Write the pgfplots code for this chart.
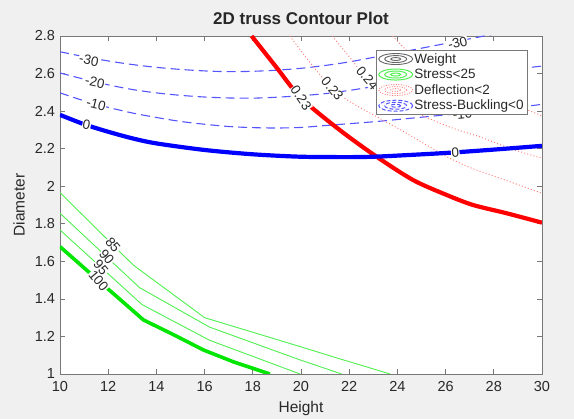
\documentclass[border=0pt]{standalone}
\usepackage{fontspec}
\setmainfont{Liberation Sans}
\usepackage{pgfplots}
\pgfplotsset{compat=1.18}
\definecolor{figbg}{RGB}{240,240,240}
\definecolor{axgray}{RGB}{120,120,120}
\definecolor{txt}{RGB}{40,40,40}
\definecolor{dashblue}{RGB}{85,85,255}
\definecolor{thinblue}{RGB}{0,0,255}
\definecolor{lgreen}{RGB}{80,240,80}
\definecolor{tgreen}{RGB}{0,230,0}
\definecolor{dotred}{RGB}{255,120,120}
\definecolor{tred}{RGB}{255,0,0}
\tikzset{
  clab/.style={font=\fontsize{13.5}{15}\selectfont, text=txt, fill=white, inner sep=0.5pt},
}
\begin{document}
\begin{tikzpicture}[x=1pt,y=1pt]
\fill[figbg] (-60,-45) rectangle (514,374);
\useasboundingbox (-60,-45) rectangle (514,374);
\begin{axis}[
  at={(0,0)}, anchor=south west,
  scale only axis, width=482pt, height=338pt,
  xmin=10, xmax=30, ymin=1, ymax=2.8,
  xtick={10,12,14,16,18,20,22,24,26,28,30},
  ytick={1,1.2,1.4,1.6,1.8,2,2.2,2.4,2.6,2.8},
  /pgf/number format/assume math mode=true,
  axis background/.style={fill=white},
  axis line style={axgray, line width=0.8pt},
  tick style={axgray, line width=0.7pt},
  tick align=inside, major tick length=5pt,
  ticklabel style={font=\fontsize{14.5}{16}\selectfont, text=txt},
  xticklabel style={yshift=-4pt},
  yticklabel style={xshift=-1.5pt},
  title={2D truss Contour Plot},
  title style={font=\fontsize{17}{19}\selectfont\bfseries, text=txt, at={(axis description cs:0.5,1)}, anchor=center, yshift=12pt},
  xlabel={Height},
  ylabel={Diameter},
  xlabel style={font=\fontsize{15.5}{17}\selectfont, text=txt, at={(axis description cs:0.5,0)}, anchor=center, yshift=-34pt},
  ylabel style={font=\fontsize{15.5}{17}\selectfont, text=txt, at={(axis description cs:0,0.5)}, anchor=center, yshift=41pt},
  legend style={at={(rel axis cs:1,1)}, xshift=-15pt, yshift=-14pt, anchor=north east,
    draw=axgray, fill=white, font=\fontsize{13.5}{15}\selectfont, text=txt,
    nodes={inner sep=1.2pt}, row sep=2pt, inner sep=2pt},
  legend cell align=left,
]
% legend images
\addlegendimage{legend image code/.code={
  \draw[black!60, line width=0.9pt] (18pt,0) ellipse [x radius=17pt, y radius=5.5pt];
  \draw[black!60, line width=0.9pt] (18pt,0) ellipse [x radius=11pt, y radius=3.5pt];
  \draw[black!60, line width=0.9pt] (18pt,0) ellipse [x radius=5pt, y radius=1.5pt];}}
\addlegendentry{Weight}
\addlegendimage{legend image code/.code={
  \draw[lgreen, line width=1pt] (18pt,0) ellipse [x radius=17pt, y radius=5.5pt];
  \draw[lgreen, line width=1pt] (18pt,0) ellipse [x radius=11pt, y radius=3.5pt];
  \draw[lgreen, line width=1pt] (18pt,0) ellipse [x radius=5pt, y radius=1.5pt];}}
\addlegendentry{Stress<25}
\addlegendimage{legend image code/.code={
  \draw[dotred, line width=0.8pt, dash pattern=on 1pt off 1.5pt] (18pt,0) ellipse [x radius=17pt, y radius=5.5pt];
  \draw[dotred, line width=0.8pt, dash pattern=on 1pt off 1.5pt] (18pt,0) ellipse [x radius=11pt, y radius=3.5pt];
  \draw[dotred, line width=0.8pt, dash pattern=on 1pt off 1.5pt] (18pt,0) ellipse [x radius=5pt, y radius=1.5pt];}}
\addlegendentry{Deflection<2}
\addlegendimage{legend image code/.code={
  \draw[dashblue, line width=1pt, dash pattern=on 4pt off 2pt] (18pt,0) ellipse [x radius=17pt, y radius=5.5pt];
  \draw[dashblue, line width=1pt, dash pattern=on 4pt off 2pt] (18pt,0) ellipse [x radius=11pt, y radius=3.5pt];
  \draw[dashblue, line width=1pt, dash pattern=on 4pt off 2pt] (18pt,0) ellipse [x radius=5pt, y radius=1.5pt];}}
\addlegendentry{Stress-Buckling<0}

% Stress-Buckling dashed contours (-30, -20, -10)
\addplot[forget plot, smooth, dashblue, line width=1.1pt, dash pattern=on 9pt off 5pt] coordinates {
 (10,2.716) (11,2.69) (12,2.667) (13,2.648) (14,2.633) (15,2.622) (16,2.614) (17,2.610) (18,2.612) (19,2.618) (20,2.628) (21,2.643) (22,2.662) (23,2.686) (24,2.71) (25,2.735) (26,2.76) (27,2.785) (28,2.81)};
\addplot[forget plot, smooth, dashblue, line width=1.1pt, dash pattern=on 9pt off 5pt] coordinates {
 (10,2.603) (11,2.57) (12,2.54) (13,2.515) (14,2.497) (15,2.484) (16,2.475) (17,2.47) (18,2.469) (19,2.474) (20,2.482) (21,2.493) (22,2.51) (23,2.53) (24,2.546) (26,2.578) (28,2.61) (30,2.64)};
\addplot[forget plot, smooth, dashblue, line width=1.1pt, dash pattern=on 9pt off 5pt] coordinates {
 (10,2.497) (11,2.455) (12,2.42) (13,2.39) (14,2.366) (15,2.345) (16,2.33) (17,2.318) (18,2.312) (19,2.31) (20,2.313) (21,2.323) (22,2.333) (23,2.343) (24,2.355) (26,2.38) (28,2.405) (30,2.436)};

% Deflection dotted contours
\addplot[forget plot, smooth, dotred, line width=0.9pt, dash pattern=on 1pt off 2.2pt] coordinates {
 (19.54,2.8) (20.4,2.655) (21.3,2.52) (22.03,2.45) (23.0,2.38) (24.0,2.31) (25,2.235) (26.05,2.157) (27,2.10) (28.1,2.05) (30,1.962)};
\addplot[forget plot, smooth, dotred, line width=0.9pt, dash pattern=on 1pt off 2.2pt] coordinates {
 (21.3,2.8) (22.0,2.69) (22.7,2.58) (23.5,2.49) (24.5,2.41) (25.5,2.35) (26.5,2.30) (27.4,2.264) (28.7,2.20) (30,2.149)};
\addplot[forget plot, smooth, dotred, line width=0.9pt, dash pattern=on 1pt off 2.2pt] coordinates {
 (23.8,2.8) (24.5,2.71) (25.5,2.62) (26.5,2.55) (27.5,2.49) (28.5,2.44) (29.4,2.406) (30,2.374)};

% Stress thin contours (85, 90, 95)
\addplot[forget plot, lgreen, line width=0.9pt] coordinates {
 (10,1.966) (13.04,1.58) (16.0,1.30) (19.96,1.146) (21.5,1.085) (23.7,1.0)};
\addplot[forget plot, lgreen, line width=0.9pt] coordinates {
 (10,1.856) (13.3,1.46) (16.2,1.25) (19.96,1.075) (21.69,1.0)};
\addplot[forget plot, lgreen, line width=0.9pt] coordinates {
 (10,1.767) (13.4,1.37) (16.2,1.18) (19.96,1.0)};

% thick boundaries
\addplot[forget plot, tgreen, line width=3.6pt] coordinates {
 (10,1.678) (11,1.565) (12,1.452) (13,1.34) (13.46,1.288) (14.7,1.21) (15.95,1.128) (17.19,1.065) (18.71,1.0)};
\addplot[forget plot, smooth, tred, line width=4.2pt] coordinates {
 (17.95,2.8) (19.0,2.63) (20.0,2.47) (21.6,2.30) (23.14,2.157) (24.65,2.033) (26.05,1.953) (27.14,1.90) (28.53,1.856) (30,1.806)};
\addplot[forget plot, smooth, thinblue, line width=4.2pt] coordinates {
 (10,2.38) (11,2.33) (12,2.29) (13,2.255) (14,2.228) (16,2.193) (18,2.170) (20,2.157) (22,2.155) (23,2.157) (24,2.163) (26,2.177) (28,2.195) (30,2.215)};

% contour labels
\node[clab, rotate=-12] at (axis cs:11.2,2.672) {-30};
\node[clab, rotate=-12] at (axis cs:11.45,2.553) {-20};
\node[clab, rotate=-14] at (axis cs:11.5,2.437) {-10};
\node[clab, rotate=-12] at (axis cs:11.1,2.325) {0};
\node[clab, rotate=14] at (axis cs:26.5,2.762) {-30};
\node[clab, rotate=6] at (axis cs:26.7,2.385) {-10};
\node[clab, rotate=4] at (axis cs:26.4,2.18) {0};
\node[clab, rotate=-56] at (axis cs:20.0,2.47) {0.23};
\node[clab, rotate=-50] at (axis cs:21.3,2.52) {0.23};
\node[clab, rotate=-50] at (axis cs:22.75,2.575) {0.24};
\node[clab, rotate=-50] at (axis cs:12.2,1.687) {85};
\node[clab, rotate=-50] at (axis cs:11.94,1.623) {90};
\node[clab, rotate=-50] at (axis cs:11.7,1.568) {95};
\node[clab, rotate=-50] at (axis cs:11.6,1.497) {100};
\end{axis}
\end{tikzpicture}
\end{document}
